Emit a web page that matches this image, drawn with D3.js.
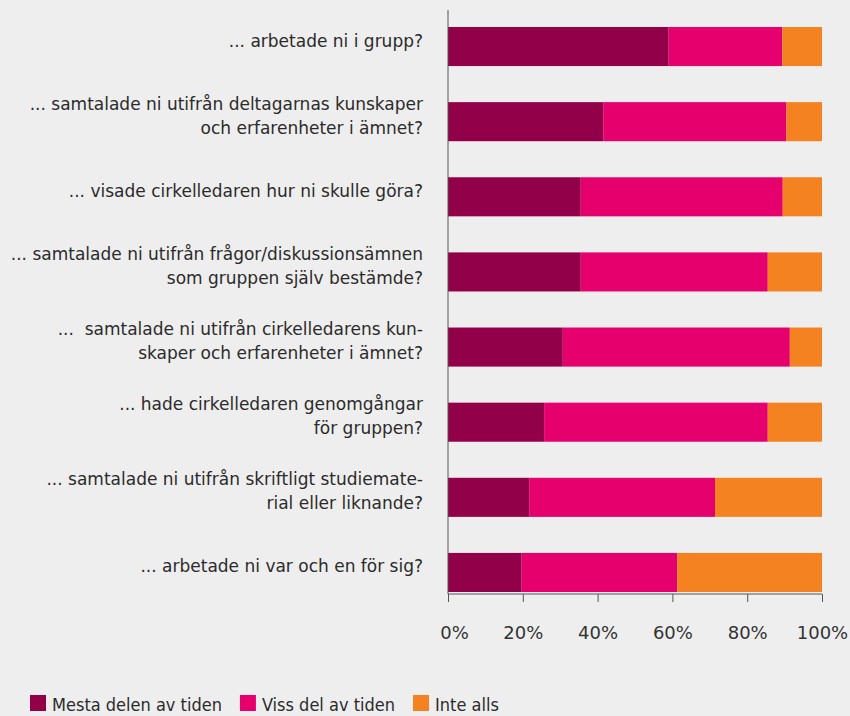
<!DOCTYPE html>
<html>
<head>
<meta charset="utf-8">
<script src="https://cdn.jsdelivr.net/npm/d3@7"></script>
<style>
  body { margin: 0; background: #eeeeee; }
  svg { display: block; }
  text { white-space: pre; }
</style>
</head>
<body>
<svg id="svg"></svg>
<script>
// data (percent)
const questions = [
  ["... arbetade ni i grupp?"],
  ["... samtalade ni utifrån deltagarnas kunskaper", "och erfarenheter i ämnet?"],
  ["... visade cirkelledaren hur ni skulle göra?"],
  ["... samtalade ni utifrån frågor/diskussionsämnen", "som gruppen själv bestämde?"],
  ["...  samtalade ni utifrån cirkelledarens kun-", "skaper och erfarenheter i ämnet?"],
  ["... hade cirkelledaren genomgångar", "för gruppen?"],
  ["... samtalade ni utifrån skriftligt studiemate-", "rial eller liknande?"],
  ["... arbetade ni var och en för sig?"]
]
const seriesNames = ["Mesta delen av tiden", "Viss del av tiden", "Inte alls"]
const mesta = [59, 41.5, 35.5, 35.5, 30.7, 25.7, 21.7, 19.7]
const viss  = [30.4, 49, 54, 50, 60.7, 59.8, 49.7, 41.6]
const inte  = [10.6, 9.5, 10.5, 14.5, 8.6, 14.5, 28.6, 38.7]
const tickValues = [0, 20, 40, 60, 80, 100]
const colors = ["#93004a", "#e5006e", "#f58220"]

const width = 850, height = 716
const margin = {top: 10, left: 448, right: 28, bottom: 122}

const rows = questions.map((q, i) => ({
  key: i, label: q, mesta: mesta[i], viss: viss[i], inte: inte[i]
}))
const keys = ["mesta", "viss", "inte"]
const stack = d3.stack().keys(keys)(rows)

const x = d3.scaleLinear()
    .domain([0, 100])
    .range([margin.left, width - margin.right])

const y = d3.scaleBand()
    .domain(d3.range(questions.length))
    .range([27, 592])
    .paddingInner(0.48)
    .paddingOuter(0)

const color = d3.scaleOrdinal().domain(keys).range(colors)

const svg = d3.select("#svg")
    .attr("width", width)
    .attr("height", height)
    .attr("font-family", "'DejaVu Sans', sans-serif")

svg.append("g")
  .selectAll("g")
  .data(stack)
  .join("g")
    .attr("fill", d => color(d.key))
  .selectAll("rect")
  .data(d => d)
  .join("rect")
    .attr("x", d => x(d[0]))
    .attr("y", (d, i) => y(i))
    .attr("width", d => x(d[1]) - x(d[0]))
    .attr("height", y.bandwidth())

// x axis
const xAxis = svg.append("g")
    .attr("transform", `translate(0,${height - margin.bottom})`)
    .call(d3.axisBottom(x)
      .tickValues(tickValues)
      .tickFormat(d => d + "%")
      .tickSize(8)
      .tickPadding(24))
xAxis.select(".domain").attr("stroke", "#555").attr("d", `M${x(0)},0H${x(100)}`)
xAxis.selectAll(".tick line").attr("stroke", "#555")
xAxis.selectAll(".tick text")
    .attr("fill", "#333")
    .attr("font-size", 18)
    .attr("font-family", "'DejaVu Sans', sans-serif")
    .attr("dx", d => d === 0 ? 6 : 0)

// y axis line
svg.append("line")
    .attr("x1", x(0)).attr("x2", x(0))
    .attr("y1", margin.top).attr("y2", height - margin.bottom)
    .attr("stroke", "#555")

// category labels
const lineH = 24
svg.append("g")
    .attr("text-anchor", "end")
    .attr("font-size", 17)
    .attr("fill", "#2b2b2b")
  .selectAll("text")
  .data(rows)
  .join("text")
    .attr("x", x(0) - 25)
    .attr("y", d => y(d.key) + y.bandwidth() / 2 - (d.label.length - 1) * lineH / 2)
    .attr("dy", "0.35em")
    .each(function(d) {
      d3.select(this).selectAll("tspan")
        .data(d.label)
        .join("tspan")
          .attr("x", x(0) - 25)
          .attr("dy", (t, j) => j === 0 ? 0 : lineH)
          .text(t => t)
    })

// legend
const legend = svg.append("g")
    .attr("transform", `translate(30,${height - 21})`)
    .attr("font-size", 18)
    .attr("font-family", "'DejaVu Sans Condensed', sans-serif")
    .attr("fill", "#2b2b2b")
let lx = 0
seriesNames.forEach((name, i) => {
  const g = legend.append("g").attr("transform", `translate(${lx},0)`)
  g.append("rect")
    .attr("width", 16).attr("height", 16)
    .attr("fill", colors[i])
  const t = g.append("text")
    .attr("x", 22).attr("y", 8).attr("dy", "0.42em")
    .text(name)
  lx += 22 + t.node().getComputedTextLength() + 18
})
</script>
</body>
</html>
